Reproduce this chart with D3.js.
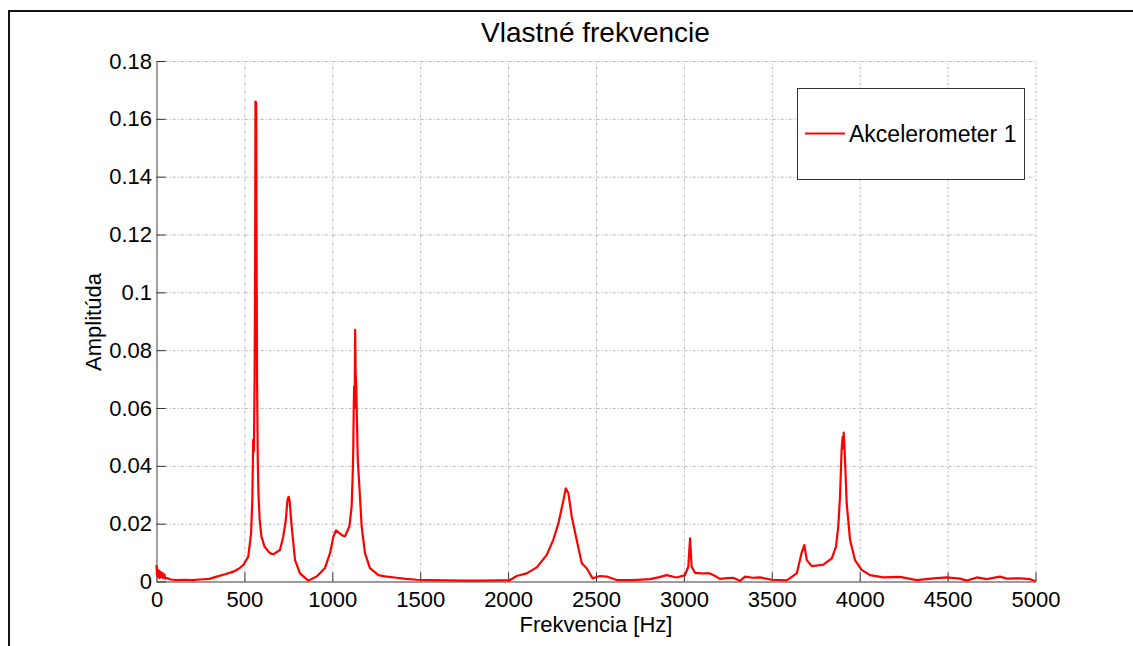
<!DOCTYPE html>
<html>
<head>
<meta charset="utf-8">
<script src="https://cdn.jsdelivr.net/npm/d3@7"></script>
<style>
  body { margin: 0; background: #fff; }
  svg { display: block; font-family: "Liberation Sans", Arial, sans-serif; }
  .grid line { stroke: #b4b4b4; stroke-width: 1; stroke-dasharray: 3,2,1,2; }
  .grid path { display: none; }
  .axis path { stroke: #7a7a7a; stroke-width: 1.4; }
  .axis line { stroke: #333; stroke-width: 1; }
  .axis text { fill: #000; font-size: 22px; }
</style>
</head>
<body>
<div id="chart"></div>
<script>
// spectrum (Hz, amplitude)
var freq = [0, 3, 6, 10, 14, 18, 23, 28, 33, 38, 44, 50, 60, 80, 120, 160, 200, 250, 300, 342,
    390, 437, 470, 494, 522, 538, 545, 550, 554, 558, 561, 563, 567, 569, 572, 576, 580, 587, 597, 615,
    645, 664, 702, 721, 735, 744, 748, 752, 757, 769, 788, 816, 864, 911, 958, 987, 1006, 1021, 1053, 1072,
    1097, 1110, 1115, 1119, 1122, 1124, 1127, 1130, 1133, 1136, 1140, 1145, 1154, 1167, 1186, 1214, 1262, 1300, 1366, 1420,
    1480, 1550, 1650, 1750, 1850, 1950, 2011, 2049, 2106, 2163, 2220, 2257, 2286, 2311, 2328, 2343, 2362, 2390, 2419, 2447,
    2481, 2523, 2561, 2618, 2712, 2807, 2860, 2902, 2959, 3006, 3025, 3035, 3044, 3063, 3100, 3148, 3180, 3205, 3250, 3281,
    3319, 3348, 3390, 3433, 3499, 3585, 3642, 3670, 3685, 3699, 3727, 3793, 3841, 3865, 3878, 3888, 3897, 3903, 3906, 3909,
    3913, 3918, 3926, 3945, 3973, 4011, 4059, 4134, 4229, 4324, 4419, 4495, 4571, 4609, 4666, 4722, 4798, 4836, 4912, 4969, 5000]
var amp = [0.0057, 0.002, 0.0042, 0.0015, 0.0038, 0.0012, 0.0033, 0.0015, 0.003, 0.0012, 0.0025, 0.001, 0.0012, 0.0007, 0.0005, 0.0006, 0.0005, 0.0007, 0.0009, 0.0017,
    0.0025, 0.0034, 0.0045, 0.0057, 0.0086, 0.0167, 0.028, 0.049, 0.045, 0.07, 0.11, 0.166, 0.1655, 0.12, 0.07, 0.042, 0.03, 0.0213, 0.0155, 0.012,
    0.0098, 0.0094, 0.0109, 0.0155, 0.021, 0.0275, 0.0288, 0.0293, 0.028, 0.019, 0.0074, 0.0028, 0.0003, 0.0017, 0.0046, 0.0098, 0.0155, 0.0177, 0.0161, 0.0156,
    0.019, 0.0259, 0.035, 0.0443, 0.06, 0.0674, 0.06, 0.087, 0.072, 0.068, 0.056, 0.042, 0.0328, 0.019, 0.0098, 0.0046, 0.0022, 0.0018, 0.0013, 0.0009,
    0.0006, 0.0005, 0.0004, 0.0003, 0.0003, 0.0004, 0.0005, 0.0019, 0.0028, 0.0049, 0.0092, 0.0144, 0.0201, 0.027, 0.0322, 0.0305, 0.0224, 0.0144, 0.0063, 0.0046,
    0.0011, 0.0019, 0.0017, 0.0005, 0.0005, 0.0008, 0.0015, 0.0022, 0.0014, 0.0022, 0.0051, 0.0149, 0.0051, 0.003, 0.0028, 0.0028, 0.0018, 0.0009, 0.0012, 0.0013,
    0.0002, 0.0017, 0.0013, 0.0014, 0.0006, 0.0004, 0.0028, 0.01, 0.0126, 0.0074, 0.0053, 0.0058, 0.008, 0.012, 0.019, 0.0293, 0.0455, 0.05, 0.046, 0.0515,
    0.047, 0.0397, 0.027, 0.0144, 0.0074, 0.004, 0.0022, 0.0014, 0.0016, 0.0005, 0.0011, 0.0014, 0.001, 0.0003, 0.0014, 0.0008, 0.0017, 0.001, 0.0011, 0.0008, 0.0001]
var xTicks = [0, 500, 1000, 1500, 2000, 2500, 3000, 3500, 4000, 4500, 5000]
var yTicks = [0, 0.02, 0.04, 0.06, 0.08, 0.1, 0.12, 0.14, 0.16, 0.18]
var seriesName = "Akcelerometer 1"

var W = 1133, H = 646
// plot box (don't call these top/left: window.top is read-only)
var plotL = 156.5, plotR = 1035.5, plotT = 61, plotB = 581.5

var svg = d3.select("#chart").append("svg").attr("width", W).attr("height", H)

// outer figure frame (right and bottom edges fall outside the picture)
svg.append("rect").attr("x", 9).attr("y", 11).attr("width", 1140).attr("height", 700)
    .attr("fill", "#fff").attr("stroke", "#151515").attr("stroke-width", 2)

var x = d3.scaleLinear().domain([0, 5000]).range([plotL, plotR])
var y = d3.scaleLinear().domain([0, 0.18]).range([plotB, plotT])

// grid
svg.append("g").attr("class", "grid").attr("transform", `translate(0,${plotB})`)
    .call(d3.axisBottom(x).tickValues(xTicks.slice(1)).tickSize(-(plotB - plotT)).tickFormat(""))
svg.append("g").attr("class", "grid").attr("transform", `translate(${plotL},0)`)
    .call(d3.axisLeft(y).tickValues(yTicks.slice(1)).tickSize(-(plotR - plotL)).tickFormat(""))

// axes, ticks pointing inward like matlab
function fmt(d){
    if (d === 0) return "0"
    return String(+d.toFixed(2))
}
svg.append("g").attr("class", "axis").attr("transform", `translate(0,${plotB})`)
    .call(d3.axisBottom(x).tickValues(xTicks).tickSizeInner(-9).tickSizeOuter(0).tickPadding(10).tickFormat(d3.format("d")))
svg.append("g").attr("class", "axis").attr("transform", `translate(${plotL},0)`)
    .call(d3.axisLeft(y).tickValues(yTicks).tickSizeInner(-9).tickSizeOuter(0).tickPadding(4.5).tickFormat(fmt))

// curve
var pts = freq.map(function(f, i){ return [f, amp[i]] })
var line = d3.line().x(function(d){ return x(d[0]) }).y(function(d){ return y(d[1]) })
svg.append("path").datum(pts).attr("d", line)
    .attr("fill", "none").attr("stroke", "#ff0000").attr("stroke-width", 2.2).attr("stroke-linejoin", "round")

// title and labels
svg.append("text").attr("x", 595.5).attr("y", 42).attr("text-anchor", "middle")
    .attr("font-size", 28).text("Vlastné frekvencie")
svg.append("text").attr("x", 596).attr("y", 632).attr("text-anchor", "middle")
    .attr("font-size", 22).text("Frekvencia [Hz]")
svg.append("text").attr("transform", "translate(101,322) rotate(-90)").attr("text-anchor", "middle")
    .attr("font-size", 22).text("Amplitúda")

// legend
var lg = svg.append("g")
lg.append("rect").attr("x", 797.5).attr("y", 88.5).attr("width", 227).attr("height", 91)
    .attr("fill", "#fff").attr("stroke", "#333").attr("stroke-width", 1)
lg.append("line").attr("x1", 805).attr("x2", 845).attr("y1", 133.5).attr("y2", 133.5)
    .attr("stroke", "#ff0000").attr("stroke-width", 2)
lg.append("text").attr("x", 849).attr("y", 141.5).attr("font-size", 23).text(seriesName)
</script>
</body>
</html>
